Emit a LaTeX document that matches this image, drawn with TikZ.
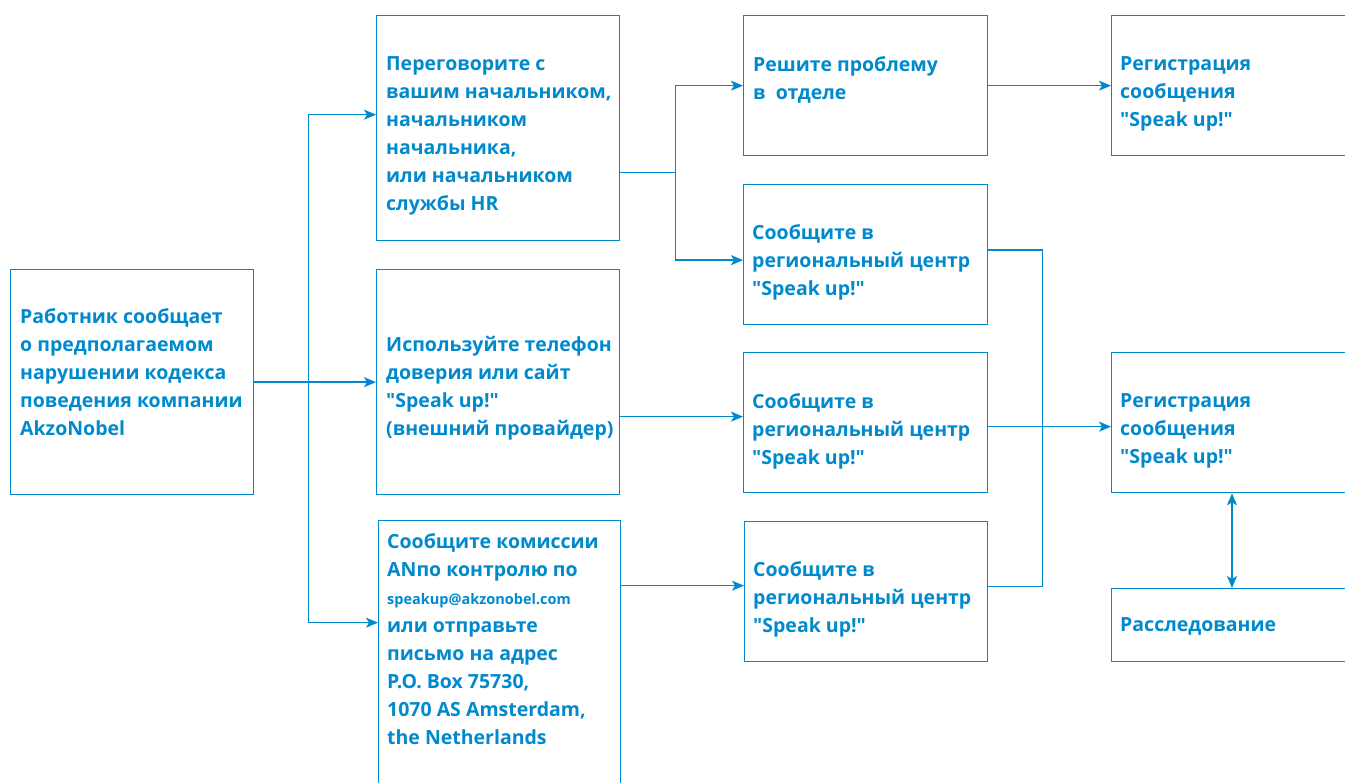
\documentclass[tikz,border=0pt]{standalone}
\usepackage{fontspec}
\setmainfont{Open Sans}
\usetikzlibrary{arrows.meta}
\definecolor{akzoblu}{RGB}{0,138,205}

\begin{document}
\begin{tikzpicture}[x=1pt, y=-1pt, >={Stealth[length=12pt, width=10pt, inset=3pt]}]
	\tikzset{blocco/.style={draw=akzoblu, line width=1.3pt, anchor=north west, inner sep=0pt},
		testo/.style={text=akzoblu, anchor=north west, align=left, inner sep=0pt,
			font=\bfseries\fontsize{19.5}{28}\selectfont},
		linea/.style={akzoblu, line width=1.3pt},
		freccia/.style={linea, ->}}
	\useasboundingbox (0,0) rectangle (1345,783);
	
	% riquadri
	\node[blocco, minimum width=243pt, minimum height=225pt] (lavoratore) at (10,269) {};
	\node[blocco, minimum width=243pt, minimum height=225pt] (parla) at (376,15) {};
	\node[blocco, minimum width=243pt, minimum height=225pt] (hotline) at (376,269) {};
	\node[blocco, minimum width=242pt, minimum height=290pt] (mail) at (378,520) {};
	\node[blocco, minimum width=244pt, minimum height=140pt] (risolvi) at (743,15) {};
	\node[blocco, minimum width=244pt, minimum height=140pt] (centro1) at (743,184) {};
	\node[blocco, minimum width=244pt, minimum height=140pt] (centro2) at (743,352) {};
	\node[blocco, minimum width=243pt, minimum height=140pt] (centro3) at (744,521) {};
	\node[blocco, minimum width=260pt, minimum height=140pt] (reg1) at (1111,15) {};
	\node[blocco, minimum width=260pt, minimum height=140pt] (reg2) at (1111,352) {};
	\node[blocco, minimum width=260pt, minimum height=73pt] (indagine) at (1111,588) {};
	
	% testi
	\node[testo] (t-lavoratore) at ([shift={(10pt,-39pt)}]lavoratore.north west)
		{Работник сообщает\\о предполагаемом\\нарушении кодекса\\поведения компании\\AkzoNobel};
	\node[testo] (t-parla) at ([shift={(10pt,-41pt)}]parla.north west)
		{Переговорите с\\вашим начальником,\\начальником\\начальника,\\или начальником\\службы HR};
	\node[testo] (t-hotline) at ([shift={(10pt,-67pt)}]hotline.north west)
		{Используйте телефон\\доверия или сайт\\\textquotedbl Speak up!\textquotedbl\\(внешний провайдер)};
	\node[testo] (t-mail) at ([shift={(9pt,-13pt)}]mail.north west)
		{Сообщите комиссии\\ANпо контролю по\\{\fontsize{14.5}{28}\selectfont speakup@akzonobel.com}\\или отправьте\\письмо на адрес\\P.O. Box 75730,\\1070 AS Amsterdam,\\the Netherlands};
	\node[testo] (t-risolvi) at ([shift={(10pt,-41pt)}]risolvi.north west)
		{Решите проблему\\в~~отделе};
	\node[testo] (t-centro1) at ([shift={(9pt,-40pt)}]centro1.north west)
		{Сообщите в\\региональный центр\\\textquotedbl Speak up!\textquotedbl};
	\node[testo] (t-centro2) at ([shift={(9pt,-41pt)}]centro2.north west)
		{Сообщите в\\региональный центр\\\textquotedbl Speak up!\textquotedbl};
	\node[testo] (t-centro3) at ([shift={(9pt,-40pt)}]centro3.north west)
		{Сообщите в\\региональный центр\\\textquotedbl Speak up!\textquotedbl};
	\node[testo] (t-reg1) at ([shift={(9pt,-41pt)}]reg1.north west)
		{Регистрация\\сообщения\\\textquotedbl Speak up!\textquotedbl};
	\node[testo] (t-reg2) at ([shift={(9pt,-41pt)}]reg2.north west)
		{Регистрация\\сообщения\\\textquotedbl Speak up!\textquotedbl};
	\node[testo] (t-indagine) at ([shift={(9pt,-29pt)}]indagine.north west)
		{Расследование};
	
	% prima diramazione
	\coordinate (d1) at ([xshift=54pt]lavoratore.east);
	\draw[linea] (lavoratore.east) -- (d1);
	\draw[freccia] (d1) |- ([yshift=13.5pt]parla.west);
	\draw[freccia] (d1) -- (hotline.west);
	\draw[freccia] (d1) |- ([yshift=43pt]mail.west);
	
	% seconda diramazione
	\coordinate (d2) at ([xshift=55pt, yshift=-44.5pt]parla.east);
	\draw[linea] ([yshift=-44.5pt]parla.east) -- (d2);
	\draw[freccia] (d2) |- (risolvi.west);
	\draw[freccia] (d2) |- ([yshift=-5.5pt]centro1.west);
	
	\draw[freccia] ([yshift=-34.5pt]hotline.east) -- ([yshift=-34.5pt]hotline.east -| centro2.west);
	\draw[freccia] ([yshift=80pt]mail.east) -- ([yshift=80pt]mail.east -| centro3.west);
	\draw[freccia] (risolvi.east) -- (reg1.west);
	
	% collegamento dei centri regionali
	\coordinate (d3) at ([xshift=54pt, yshift=4.5pt]centro1.east);
	\draw[linea] ([yshift=4.5pt]centro1.east) -- (d3) |- ([yshift=5pt]centro3.east);
	\draw[freccia] ([yshift=-4pt]centro2.east) -- ([yshift=-4pt]centro2.east -| reg2.west);
	
	\draw[linea, <->] ([xshift=121pt]reg2.south west) -- ([xshift=121pt]indagine.north west);
\end{tikzpicture}
\end{document}
